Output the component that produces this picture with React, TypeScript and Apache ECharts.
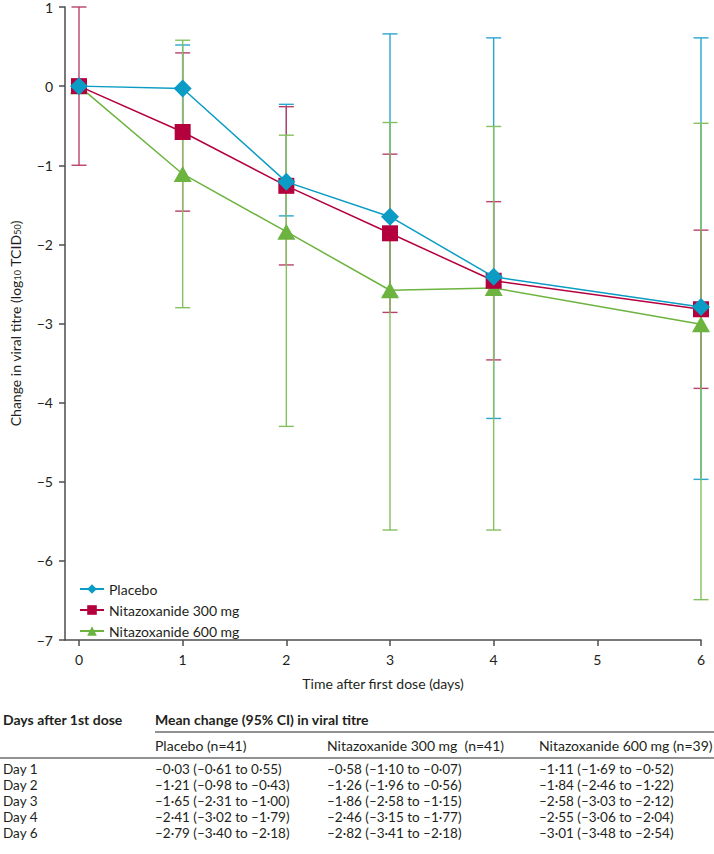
import React, { useEffect, useRef } from "react";
import * as echarts from "echarts";

// ---- data ----
const days = [0, 1, 2, 3, 4, 6];
const xTicks = [0, 1, 2, 3, 4, 5, 6];
const seriesNames = ["Placebo", "Nitazoxanide 300 mg", "Nitazoxanide 600 mg"];

const placeboMean = [0, -0.03, -1.21, -1.65, -2.41, -2.79];
const n300Mean = [0, -0.58, -1.26, -1.86, -2.46, -2.82];
const n600Mean = [0, -1.11, -1.84, -2.58, -2.55, -3.01];

// error bar ends as drawn in the figure
const placeboHigh = [null, 0.52, -0.23, 0.66, 0.61, 0.61];
const placeboLow = [null, -0.64, -1.64, -2.65, -4.2, -4.97];
const n300High = [1.0, 0.42, -0.26, -0.86, -1.46, -1.82];
const n300Low = [-1.0, -1.58, -2.26, -2.86, -3.46, -3.82];
const n600High = [null, 0.58, -0.62, -0.46, -0.51, -0.47];
const n600Low = [null, -2.8, -4.3, -5.61, -5.61, -6.49];

// table
const tableDays = ["Day 1", "Day 2", "Day 3", "Day 4", "Day 6"];
const tableHeaders = ["Placebo (n=41)", "Nitazoxanide 300 mg\u00a0\u00a0(n=41)", "Nitazoxanide 600 mg (n=39)"];
const placeboTabMean = [-0.03, -1.21, -1.65, -2.41, -2.79];
const placeboCiLo = [-0.61, -0.98, -2.31, -3.02, -3.4];
const placeboCiHi = [0.55, -0.43, -1.0, -1.79, -2.18];
const n300TabMean = [-0.58, -1.26, -1.86, -2.46, -2.82];
const n300CiLo = [-1.1, -1.96, -2.58, -3.15, -3.41];
const n300CiHi = [-0.07, -0.56, -1.15, -1.77, -2.18];
const n600TabMean = [-1.11, -1.84, -2.58, -2.55, -3.01];
const n600CiLo = [-1.69, -2.46, -3.03, -3.06, -3.48];
const n600CiHi = [-0.52, -1.22, -2.12, -2.04, -2.54];

const BLUE = "#0a9cc4";
const RED = "#b4003c";
const GREEN = "#6cb33f";
const BLUE_BAR = "#2aa6d0";
const RED_BAR = "#b8406a";
const GREEN_BAR = "#84c060";
const FONT = "Lato";
const FS = 14;

const fmt = (v: number) => {
  const s = Math.abs(v).toFixed(2).replace(".", "\u00b7");
  return (v < 0 ? "\u2013" : "") + s;
};
const cell = (m: number, lo: number, hi: number) => `${fmt(m)} (${fmt(lo)} to ${fmt(hi)})`;

function errorSeries(name: string, color: string, low: (number | null)[], high: (number | null)[]) {
  const data: any[] = [];
  days.forEach((d, i) => {
    if (low[i] !== null && high[i] !== null) data.push([d, low[i], high[i]]);
  });
  return {
    type: "custom",
    name,
    z: 2,
    encode: { x: 0, y: [1, 2] },
    data,
    renderItem: (params: any, api: any) => {
      const x = api.value(0);
      const pLo = api.coord([x, api.value(1)]);
      const pHi = api.coord([x, api.value(2)]);
      const hw = 7.5;
      const style = { stroke: color, lineWidth: 1.4 };
      return {
        type: "group",
        children: [
          { type: "line", shape: { x1: pHi[0], y1: pHi[1], x2: pLo[0], y2: pLo[1] }, style },
          { type: "line", shape: { x1: pHi[0] - hw, y1: pHi[1], x2: pHi[0] + hw, y2: pHi[1] }, style },
          { type: "line", shape: { x1: pLo[0] - hw, y1: pLo[1], x2: pLo[0] + hw, y2: pLo[1] }, style },
        ],
      };
    },
  };
}

function lineSeries(name: string, color: string, mean: number[], symbol: string, size: any, z: number) {
  return {
    type: "line",
    name,
    z,
    data: days.map((d, i) => [d, mean[i]]),
    symbol,
    symbolSize: size,
    showSymbol: true,
    lineStyle: { color, width: 1.5 },
    itemStyle: { color },
  };
}

export default function App() {
  const ref = useRef<HTMLDivElement>(null);
  useEffect(() => {
    document.body.style.margin = "0";
    const chart = echarts.init(ref.current!, null, { renderer: "svg" });

    const textStyle = (text: string, x: number, y: number, bold = false, size = FS) => ({
      type: "text",
      x,
      y,
      style: {
        text,
        fill: "#231f20",
        font: `${bold ? "bold " : ""}${size}px ${FONT}`,
        verticalAlign: "middle",
        align: "left",
      },
    });

    const colX = [155, 327, 539];
    const rowY = [769, 785, 801, 817, 833];
    const means = [placeboTabMean, n300TabMean, n600TabMean];
    const los = [placeboCiLo, n300CiLo, n600CiLo];
    const his = [placeboCiHi, n300CiHi, n600CiHi];

    const graphics: any[] = [
      textStyle("Days after 1st dose", 3, 719, true),
      textStyle("Mean change (95% CI) in viral titre", 155, 719, true),
      { type: "line", shape: { x1: 155, y1: 732, x2: 714, y2: 732 }, style: { stroke: "#6d6e71", lineWidth: 1.5 } },
      { type: "line", shape: { x1: 0, y1: 758, x2: 714, y2: 758 }, style: { stroke: "#6d6e71", lineWidth: 1.5 } },
    ];
    tableHeaders.forEach((h, j) => graphics.push(textStyle(h, colX[j], 745)));
    tableDays.forEach((d, i) => {
      graphics.push(textStyle(d, 3, rowY[i], false, 13.5));
      for (let j = 0; j < 3; j++) {
        graphics.push(textStyle(cell(means[j][i], los[j][i], his[j][i]), colX[j], rowY[i], false, 13.5));
      }
    });

    chart.setOption({
      animation: false,
      textStyle: { fontFamily: FONT },
      grid: { left: 62, right: 13, top: 5.7, bottom: 214, containLabel: false },
      legend: {
        orient: "vertical",
        left: 74,
        top: 577,
        itemWidth: 24,
        itemHeight: 12,
        itemGap: 7,
        data: seriesNames,
        textStyle: { fontSize: FS, color: "#231f20", fontFamily: FONT },
      },
      xAxis: {
        type: "value",
        min: -0.135,
        max: 6,
        name: "Time after first dose (days)",
        nameLocation: "middle",
        nameGap: 36,
        nameTextStyle: { fontSize: FS, color: "#231f20", fontFamily: FONT },
        splitLine: { show: false },
        axisLine: { show: true, onZero: false, lineStyle: { color: "#4d4d4f", width: 1.5 } },
        axisTick: { show: true, length: 6, customValues: xTicks, lineStyle: { color: "#4d4d4f", width: 1.5 } },
        axisLabel: { customValues: xTicks, margin: 12, fontSize: FS, color: "#231f20", fontFamily: FONT },
      },
      yAxis: {
        type: "value",
        min: -7,
        max: 1,
        interval: 1,
        name: "Change in viral titre (log{sub|10} TCID{sub|50})",
        nameLocation: "middle",
        nameGap: 43,
        nameTextStyle: {
          fontSize: FS,
          color: "#231f20",
          fontFamily: FONT,
          rich: { sub: { fontSize: 9, color: "#231f20", fontFamily: FONT, verticalAlign: "bottom", padding: [5, 0, 0, 0] } },
        },
        splitLine: { show: false },
        axisLine: { show: true, onZero: false, lineStyle: { color: "#4d4d4f", width: 1.5 } },
        axisTick: { show: true, length: 6, lineStyle: { color: "#4d4d4f", width: 1.5 } },
        axisLabel: {
          margin: 12,
          fontSize: FS,
          color: "#231f20",
          fontFamily: FONT,
          formatter: (v: number) => (v < 0 ? "\u2212" + Math.abs(v) : String(v)),
        },
      },
      series: [
        errorSeries("Placebo bars", BLUE_BAR, placeboLow, placeboHigh),
        errorSeries("300 bars", RED_BAR, n300Low, n300High),
        errorSeries("600 bars", GREEN_BAR, n600Low, n600High),
        lineSeries(seriesNames[2], GREEN, n600Mean, "triangle", [18, 16], 3),
        lineSeries(seriesNames[1], RED, n300Mean, "rect", 16, 4),
        lineSeries(seriesNames[0], BLUE, placeboMean, "diamond", 18, 5),
      ],
      graphic: graphics,
    });
    return () => chart.dispose();
  }, []);
  return <div ref={ref} style={{ width: 714, height: 854 }} />;
}
